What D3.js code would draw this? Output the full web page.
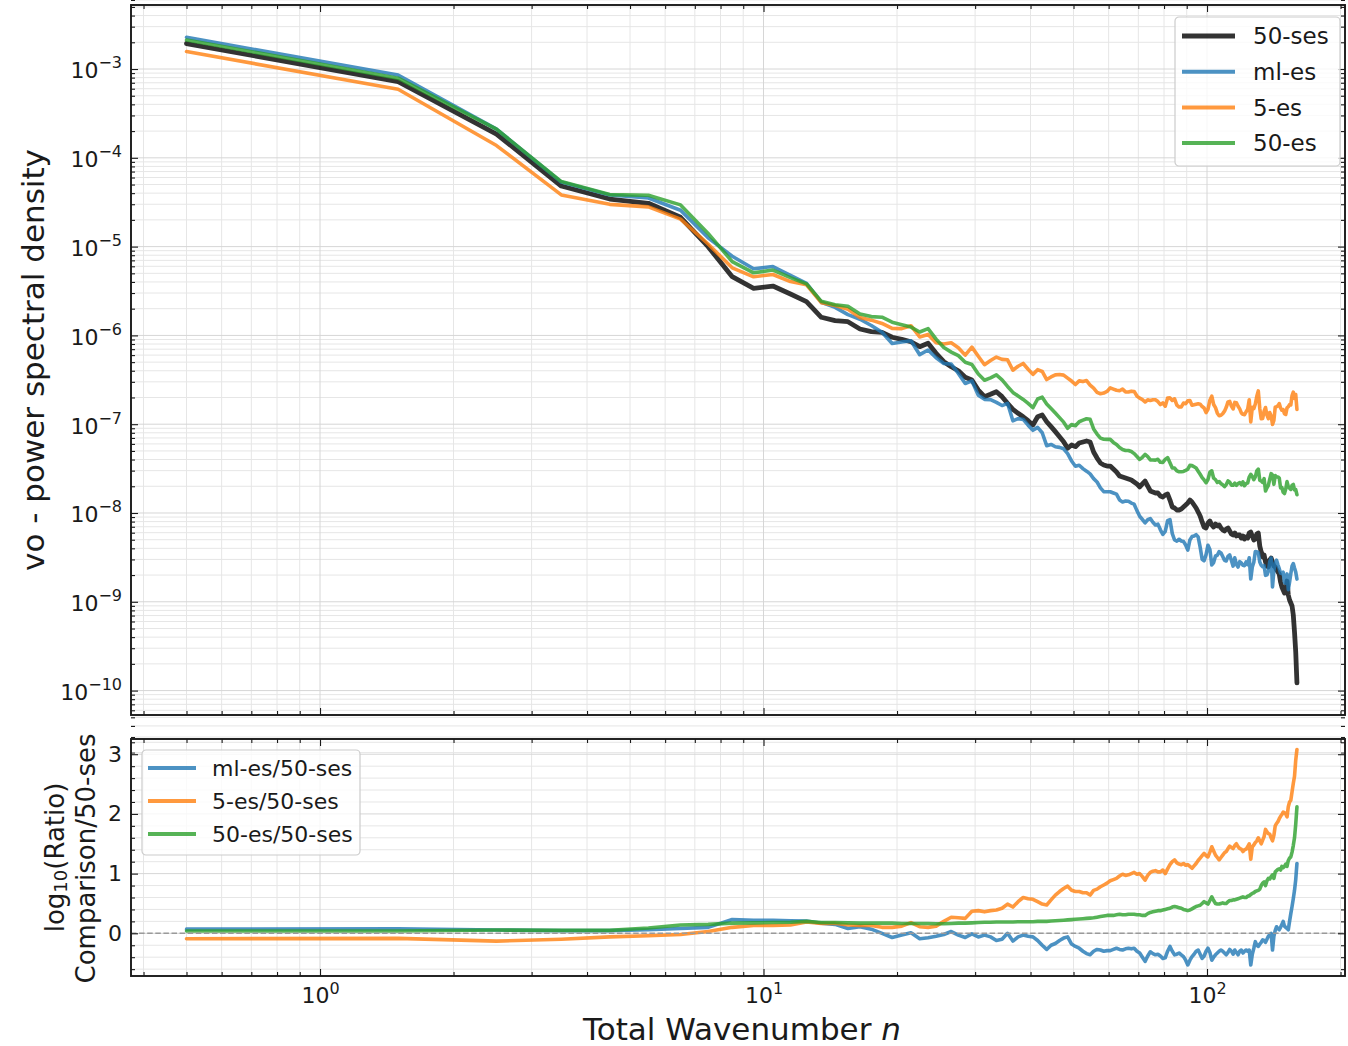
<!DOCTYPE html>
<html>
<head>
<meta charset="utf-8">
<script src="https://cdn.jsdelivr.net/npm/d3@7"></script>
<style>
  body { margin: 0; background: #ffffff; }
  svg text { font-family: "DejaVu Sans", sans-serif; fill: #1a1a1a; }
</style>
</head>
<body>
<svg id="chart" width="1348" height="1046"></svg>
<script>
// Total wavenumber n (plotted at n + 0.5)
const wavenumbers = d3.range(160).map(k => k + 0.5);

// log10 of the vo power spectral density of the 50-ses reference run
const log10Psd50ses = [
  -2.713, -3.143, -3.732, -4.318, -4.464, -4.512, -4.670, -5.001, -5.339, -5.470,
  -5.444, -5.534, -5.620, -5.796, -5.834, -5.846, -5.928, -5.958, -5.965, -6.021,
  -6.044, -6.071, -6.127, -6.089, -6.202, -6.296, -6.353, -6.398, -6.472, -6.502,
  -6.615, -6.690, -6.663, -6.634, -6.690, -6.765, -6.832, -6.877, -6.916, -6.961,
  -7.009, -6.916, -6.896, -6.972, -7.028, -7.084, -7.141, -7.197, -7.271, -7.234,
  -7.253, -7.212, -7.200, -7.189, -7.200, -7.313, -7.381, -7.437, -7.459, -7.471,
  -7.471, -7.505, -7.538, -7.583, -7.595, -7.606, -7.617, -7.628, -7.651, -7.673,
  -7.707, -7.673, -7.640, -7.696, -7.752, -7.764, -7.775, -7.775, -7.809, -7.820,
  -7.797, -7.786, -7.854, -7.932, -7.944, -7.966, -7.966, -7.955, -7.932, -7.910,
  -7.887, -7.854, -7.876, -7.910, -7.944, -7.989, -8.034, -8.101, -8.158, -8.169,
  -8.113, -8.090, -8.135, -8.158, -8.124, -8.146, -8.135, -8.169, -8.191, -8.203,
  -8.180, -8.169, -8.203, -8.236, -8.248, -8.225, -8.259, -8.248, -8.248, -8.282,
  -8.259, -8.293, -8.270, -8.282, -8.225, -8.214, -8.259, -8.304, -8.293, -8.236,
  -8.225, -8.372, -8.439, -8.495, -8.473, -8.552, -8.597, -8.608, -8.529, -8.507,
  -8.552, -8.597, -8.608, -8.642, -8.664, -8.687, -8.777, -8.833, -8.867, -8.901,
  -8.890, -8.766, -8.923, -8.980, -9.014, -9.047, -9.149, -9.340, -9.566, -9.914
];

// log10(comparison / 50-ses) for each comparison run
const log10RatioMlEs = [
  0.07, 0.075, 0.055, 0.045, 0.045, 0.06, 0.08, 0.10, 0.23, 0.22,
  0.22, 0.21, 0.205, 0.17, 0.15, 0.08, 0.11, 0.07, 0.0, -0.07,
  -0.03, 0.01, -0.09, -0.075, -0.05, -0.02, 0.03, -0.03, -0.07, -0.01,
  -0.06, -0.03, -0.06, -0.12, -0.10, 0.0, -0.13, -0.06, -0.03, -0.05,
  -0.06, -0.12, -0.20, -0.27, -0.20, -0.17, -0.12, -0.08, -0.06, -0.18,
  -0.22, -0.25, -0.30, -0.34, -0.36, -0.30, -0.27, -0.28, -0.30, -0.29,
  -0.29, -0.27, -0.25, -0.27, -0.28, -0.26, -0.25, -0.26, -0.25, -0.30,
  -0.33, -0.40, -0.47, -0.38, -0.31, -0.34, -0.36, -0.35, -0.38, -0.42,
  -0.41, -0.30, -0.22, -0.30, -0.36, -0.35, -0.33, -0.36, -0.39, -0.45,
  -0.53, -0.45, -0.39, -0.35, -0.30, -0.28, -0.35, -0.42, -0.38, -0.30,
  -0.25, -0.32, -0.45, -0.40, -0.36, -0.33, -0.30, -0.28, -0.30, -0.33,
  -0.36, -0.32, -0.27, -0.30, -0.35, -0.28, -0.32, -0.36, -0.30, -0.28,
  -0.33, -0.30, -0.28, -0.30, -0.28, -0.53, -0.35, -0.25, -0.14, -0.20,
  -0.22, -0.18, -0.15, -0.11, -0.12, -0.15, -0.10, -0.05, -0.02, 0.0,
  -0.28, -0.05, 0.05, 0.11, 0.08, 0.06, 0.10, 0.15, 0.20, 0.12,
  0.10, 0.08, 0.06, 0.20, 0.33, 0.45, 0.58, 0.72, 0.90, 1.17
];

const log10Ratio5es = [
  -0.09, -0.085, -0.13, -0.10, -0.06, -0.04, -0.02, 0.03, 0.10, 0.13,
  0.13, 0.14, 0.19, 0.165, 0.17, 0.14, 0.13, 0.13, 0.10, 0.10,
  0.12, 0.18, 0.11, 0.10, 0.12, 0.20, 0.27, 0.26, 0.25, 0.37,
  0.38, 0.36, 0.38, 0.39, 0.42, 0.49, 0.44, 0.53, 0.60, 0.58,
  0.57, 0.53, 0.49, 0.475, 0.56, 0.64, 0.70, 0.75, 0.79, 0.72,
  0.70, 0.70, 0.68, 0.68, 0.64, 0.72, 0.74, 0.78, 0.81, 0.84,
  0.88, 0.90, 0.92, 0.96, 0.99, 0.97, 0.98, 1.00, 1.02, 0.99,
  1.00, 0.95, 0.89, 0.97, 1.02, 1.04, 1.05, 1.03, 1.03, 1.06,
  1.00, 1.08, 1.15, 1.20, 1.23, 1.18, 1.16, 1.15, 1.17, 1.14,
  1.15, 1.12, 1.09, 1.13, 1.17, 1.22, 1.26, 1.30, 1.34, 1.30,
  1.28, 1.36, 1.45, 1.38, 1.31, 1.27, 1.23, 1.27, 1.31, 1.35,
  1.37, 1.42, 1.46, 1.44, 1.42, 1.47, 1.50, 1.45, 1.42, 1.41,
  1.37, 1.40, 1.41, 1.45, 1.50, 1.24, 1.45, 1.48, 1.52, 1.55,
  1.60, 1.55, 1.50, 1.56, 1.62, 1.74, 1.70, 1.67, 1.66, 1.60,
  1.55, 1.64, 1.80, 1.84, 1.87, 1.92, 1.96, 1.99, 2.03, 2.02,
  2.00, 1.95, 2.12, 2.20, 2.23, 2.37, 2.51, 2.63, 2.90, 3.08
];

const log10Ratio50es = [
  0.04, 0.04, 0.055, 0.05, 0.05, 0.09, 0.14, 0.15, 0.17, 0.175,
  0.18, 0.185, 0.20, 0.18, 0.18, 0.175, 0.17, 0.17, 0.17, 0.17,
  0.165, 0.165, 0.165, 0.165, 0.16, 0.16, 0.165, 0.17, 0.17, 0.175,
  0.18, 0.185, 0.185, 0.19, 0.19, 0.19, 0.19, 0.195, 0.195, 0.195,
  0.195, 0.20, 0.20, 0.20, 0.205, 0.21, 0.215, 0.22, 0.225, 0.23,
  0.235, 0.24, 0.245, 0.25, 0.255, 0.26, 0.27, 0.28, 0.29, 0.30,
  0.30, 0.30, 0.31, 0.32, 0.31, 0.31, 0.32, 0.32, 0.32, 0.31,
  0.31, 0.30, 0.30, 0.33, 0.35, 0.36, 0.37, 0.38, 0.38, 0.39,
  0.40, 0.41, 0.42, 0.44, 0.45, 0.44, 0.43, 0.42, 0.40, 0.39,
  0.38, 0.39, 0.41, 0.43, 0.45, 0.46, 0.47, 0.50, 0.53, 0.51,
  0.49, 0.55, 0.61, 0.55, 0.50, 0.49, 0.49, 0.50, 0.51, 0.50,
  0.50, 0.53, 0.55, 0.55, 0.56, 0.56, 0.57, 0.58, 0.59, 0.60,
  0.61, 0.60, 0.60, 0.62, 0.63, 0.65, 0.67, 0.68, 0.70, 0.71,
  0.72, 0.74, 0.80, 0.84, 0.86, 0.80, 0.88, 0.92, 0.91, 0.95,
  0.98, 0.92, 1.03, 1.05, 1.07, 1.08, 1.06, 1.12, 1.10, 1.12,
  1.16, 1.12, 1.22, 1.26, 1.28, 1.36, 1.47, 1.60, 1.83, 2.12
];

// Axis ticks
const xMajorTicks = [1, 10, 100];
const xMinorTicks = [0.4, 0.5, 0.6, 0.7, 0.8, 0.9, 2, 3, 4, 5, 6, 7, 8, 9,
                     20, 30, 40, 50, 60, 70, 80, 90, 200];
const psdExponents = [-10, -9, -8, -7, -6, -5, -4, -3];
const ratioMajorTicks = [0, 1, 2, 3];
const ratioMinorTicks = [-0.6, -0.4, -0.2, 0.2, 0.4, 0.6, 0.8, 1.2, 1.4, 1.6, 1.8,
                         2.2, 2.4, 2.6, 2.8, 3.2];

const psdMajorTicks = psdExponents.map(e => Math.pow(10, e));
const psdMinorTicks = [];
for (let e = -11; e <= -3; e++) {
  for (let m = 2; m <= 9; m++) psdMinorTicks.push(m * Math.pow(10, e));
}

// Series definitions
const psdSeries = [
  { name: "50-ses", color: "#000000", width: 4.8, log: log10Psd50ses },
  { name: "ml-es", color: "#1f77b4", width: 3.6, log: log10Psd50ses.map((b, i) => b + log10RatioMlEs[i]) },
  { name: "5-es", color: "#ff7f0e", width: 3.6, log: log10Psd50ses.map((b, i) => b + log10Ratio5es[i]) },
  { name: "50-es", color: "#2ca02c", width: 3.6, log: log10Psd50ses.map((b, i) => b + log10Ratio50es[i]) }
];
const ratioSeries = [
  { name: "ml-es/50-ses", color: "#1f77b4", width: 3.6, values: log10RatioMlEs },
  { name: "5-es/50-ses", color: "#ff7f0e", width: 3.6, values: log10Ratio5es },
  { name: "50-es/50-ses", color: "#2ca02c", width: 3.6, values: log10Ratio50es }
];

// Layout
const left = 131, right = 1345;
const topPanel = { y0: 5, y1: 715 };
const botPanel = { y0: 739, y1: 976 };

const x = d3.scaleLog().domain([0.3748, 204.7]).range([left, right]);
const yPsd = d3.scaleLog().domain([5.31e-11, 5.26e-3]).range([topPanel.y1, topPanel.y0]);
const yRatio = d3.scaleLinear().domain([-0.715, 3.255]).range([botPanel.y1, botPanel.y0]);

const svg = d3.select("#chart");
const defs = svg.append("defs");
defs.append("clipPath").attr("id", "clip-top").append("rect")
  .attr("x", left).attr("y", topPanel.y0).attr("width", right - left).attr("height", topPanel.y1 - topPanel.y0);
defs.append("clipPath").attr("id", "clip-bot").append("rect")
  .attr("x", left).attr("y", botPanel.y0).attr("width", right - left).attr("height", botPanel.y1 - botPanel.y0);

function drawGrid(g, panel, yScale, yMajor, yMinor) {
  g.selectAll("line.vminor").data(xMinorTicks).join("line")
    .attr("x1", d => x(d)).attr("x2", d => x(d))
    .attr("y1", panel.y0).attr("y2", panel.y1)
    .attr("stroke", "#e6e6e6").attr("stroke-width", 1);
  g.selectAll("line.hminor").data(yMinor).join("line")
    .attr("x1", left).attr("x2", right)
    .attr("y1", d => yScale(d)).attr("y2", d => yScale(d))
    .attr("stroke", "#e6e6e6").attr("stroke-width", 1);
  g.selectAll("line.vmajor").data(xMajorTicks).join("line")
    .attr("x1", d => x(d)).attr("x2", d => x(d))
    .attr("y1", panel.y0).attr("y2", panel.y1)
    .attr("stroke", "#d6d6d6").attr("stroke-width", 1);
  g.selectAll("line.hmajor").data(yMajor).join("line")
    .attr("x1", left).attr("x2", right)
    .attr("y1", d => yScale(d)).attr("y2", d => yScale(d))
    .attr("stroke", "#d6d6d6").attr("stroke-width", 1);
}

function inwardTicks(panel, yScale, yMajor, yMinor) {
  const g = svg.append("g");
  const specs = [
    { axis: d3.axisBottom, scale: x, t: `translate(0,${panel.y1})`, major: xMajorTicks, minor: xMinorTicks },
    { axis: d3.axisTop, scale: x, t: `translate(0,${panel.y0})`, major: xMajorTicks, minor: xMinorTicks },
    { axis: d3.axisLeft, scale: yScale, t: `translate(${left},0)`, major: yMajor, minor: yMinor },
    { axis: d3.axisRight, scale: yScale, t: `translate(${right},0)`, major: yMajor, minor: yMinor }
  ];
  specs.forEach(s => {
    const gMaj = g.append("g").attr("transform", s.t)
      .call(s.axis(s.scale).tickValues(s.major).tickSize(-7).tickFormat(""));
    const gMin = g.append("g").attr("transform", s.t)
      .call(s.axis(s.scale).tickValues(s.minor).tickSize(-4).tickFormat(""));
    [gMaj, gMin].forEach(a => {
      a.select(".domain").remove();
      a.selectAll(".tick line").attr("stroke", "#1a1a1a").attr("stroke-width", 1.1);
    });
  });
}

function frame(panel) {
  svg.append("rect")
    .attr("x", left).attr("y", panel.y0)
    .attr("width", right - left).attr("height", panel.y1 - panel.y0)
    .attr("fill", "none").attr("stroke", "#1a1a1a").attr("stroke-width", 1.9);
}

// ---------- Top panel: power spectra ----------
drawGrid(svg.append("g"), topPanel, yPsd, psdMajorTicks, psdMinorTicks);

const psdLine = d3.line()
  .x((d, i) => x(wavenumbers[i]))
  .y(d => yPsd(Math.pow(10, d)));

svg.append("g").attr("clip-path", "url(#clip-top)")
  .selectAll("path").data(psdSeries).join("path")
  .attr("d", s => psdLine(s.log))
  .attr("fill", "none")
  .attr("stroke", s => s.color)
  .attr("stroke-opacity", 0.8)
  .attr("stroke-width", s => s.width)
  .attr("stroke-linejoin", "round")
  .attr("stroke-linecap", "round");

inwardTicks(topPanel, yPsd, psdMajorTicks, psdMinorTicks);
frame(topPanel);

// y tick labels 10^k
const yPsdLabels = svg.append("g").attr("transform", `translate(${left},0)`)
  .call(d3.axisLeft(yPsd).tickValues(psdMajorTicks).tickSize(0).tickPadding(9).tickFormat(""));
yPsdLabels.select(".domain").remove();
yPsdLabels.selectAll(".tick text").each(function (d) {
  const t = d3.select(this).attr("font-size", 22).attr("dy", "0.40em").attr("fill", "#1a1a1a");
  t.append("tspan").text("10");
  t.append("tspan").attr("font-size", 16).attr("dy", -10)
    .text("\u2212" + String(-Math.round(Math.log10(d))));
});

svg.append("text")
  .attr("transform", `translate(33,360) rotate(-90)`)
  .attr("text-anchor", "middle").attr("dominant-baseline", "central")
  .attr("font-size", 31)
  .text("vo - power spectral density");

// Legend (top)
const legTop = svg.append("g").attr("transform", "translate(1175,17)");
legTop.append("rect").attr("width", 165).attr("height", 149).attr("rx", 4)
  .attr("fill", "#ffffff").attr("fill-opacity", 0.8).attr("stroke", "#cccccc").attr("stroke-width", 1.2);
psdSeries.forEach((s, i) => {
  const yy = 19 + i * 35.7;
  legTop.append("line").attr("x1", 7).attr("x2", 60).attr("y1", yy).attr("y2", yy)
    .attr("stroke", s.color).attr("stroke-opacity", 0.8).attr("stroke-width", s.width + 0.4);
  legTop.append("text").attr("x", 78).attr("y", yy).attr("dy", "0.36em")
    .attr("font-size", 23).text(s.name);
});

// ---------- Bottom panel: log ratios ----------
drawGrid(svg.append("g"), botPanel, yRatio, ratioMajorTicks, ratioMinorTicks);

const ratioLine = d3.line()
  .x((d, i) => x(wavenumbers[i]))
  .y(d => yRatio(d));

svg.append("g").attr("clip-path", "url(#clip-bot)")
  .selectAll("path").data(ratioSeries).join("path")
  .attr("d", s => ratioLine(s.values))
  .attr("fill", "none")
  .attr("stroke", s => s.color)
  .attr("stroke-opacity", 0.8)
  .attr("stroke-width", s => s.width)
  .attr("stroke-linejoin", "round")
  .attr("stroke-linecap", "round");

// zero reference line
svg.append("line")
  .attr("x1", left).attr("x2", right)
  .attr("y1", yRatio(0)).attr("y2", yRatio(0))
  .attr("stroke", "#9a9a9a").attr("stroke-width", 1.5)
  .attr("stroke-dasharray", "5.5,2.6");

inwardTicks(botPanel, yRatio, ratioMajorTicks, ratioMinorTicks);
frame(botPanel);

const yRatioLabels = svg.append("g").attr("transform", `translate(${left},0)`)
  .call(d3.axisLeft(yRatio).tickValues(ratioMajorTicks).tickSize(0).tickPadding(9).tickFormat(d3.format("d")));
yRatioLabels.select(".domain").remove();
yRatioLabels.selectAll(".tick text").attr("font-size", 22).attr("fill", "#1a1a1a");

const xLabels = svg.append("g").attr("transform", `translate(0,${botPanel.y1})`)
  .call(d3.axisBottom(x).tickValues(xMajorTicks).tickSize(0).tickPadding(11).tickFormat(""));
xLabels.select(".domain").remove();
xLabels.selectAll(".tick text").each(function (d) {
  const t = d3.select(this).attr("font-size", 22).attr("fill", "#1a1a1a");
  t.append("tspan").text("10");
  t.append("tspan").attr("font-size", 16).attr("dy", -9)
    .text(String(Math.round(Math.log10(d))));
});

const yl = svg.append("g").attr("font-size", 26);
const yl1 = yl.append("text")
  .attr("transform", `translate(55,${(botPanel.y0 + botPanel.y1) / 2}) rotate(-90)`)
  .attr("text-anchor", "middle").attr("dominant-baseline", "central");
yl1.append("tspan").text("log");
yl1.append("tspan").attr("font-size", 18).attr("dy", 5).text("10");
yl1.append("tspan").attr("dy", -5).text("(Ratio)");
yl.append("text")
  .attr("transform", `translate(86,${(botPanel.y0 + botPanel.y1) / 2 + 1}) rotate(-90)`)
  .attr("text-anchor", "middle").attr("dominant-baseline", "central")
  .text("Comparison/50-ses");

const xl = svg.append("text")
  .attr("x", 742).attr("y", 1040)
  .attr("text-anchor", "middle").attr("font-size", 31);
xl.append("tspan").text("Total Wavenumber ");
xl.append("tspan").attr("font-style", "italic").text("n");

// Legend (bottom)
const legBot = svg.append("g").attr("transform", "translate(142,750)");
legBot.append("rect").attr("width", 218).attr("height", 105).attr("rx", 4)
  .attr("fill", "#ffffff").attr("fill-opacity", 0.8).attr("stroke", "#cccccc").attr("stroke-width", 1.2);
ratioSeries.forEach((s, i) => {
  const yy = 18 + i * 33;
  legBot.append("line").attr("x1", 6).attr("x2", 54).attr("y1", yy).attr("y2", yy)
    .attr("stroke", s.color).attr("stroke-opacity", 0.8).attr("stroke-width", s.width + 0.4);
  legBot.append("text").attr("x", 70).attr("y", yy).attr("dy", "0.36em")
    .attr("font-size", 22).text(s.name);
});
</script>
</body>
</html>
